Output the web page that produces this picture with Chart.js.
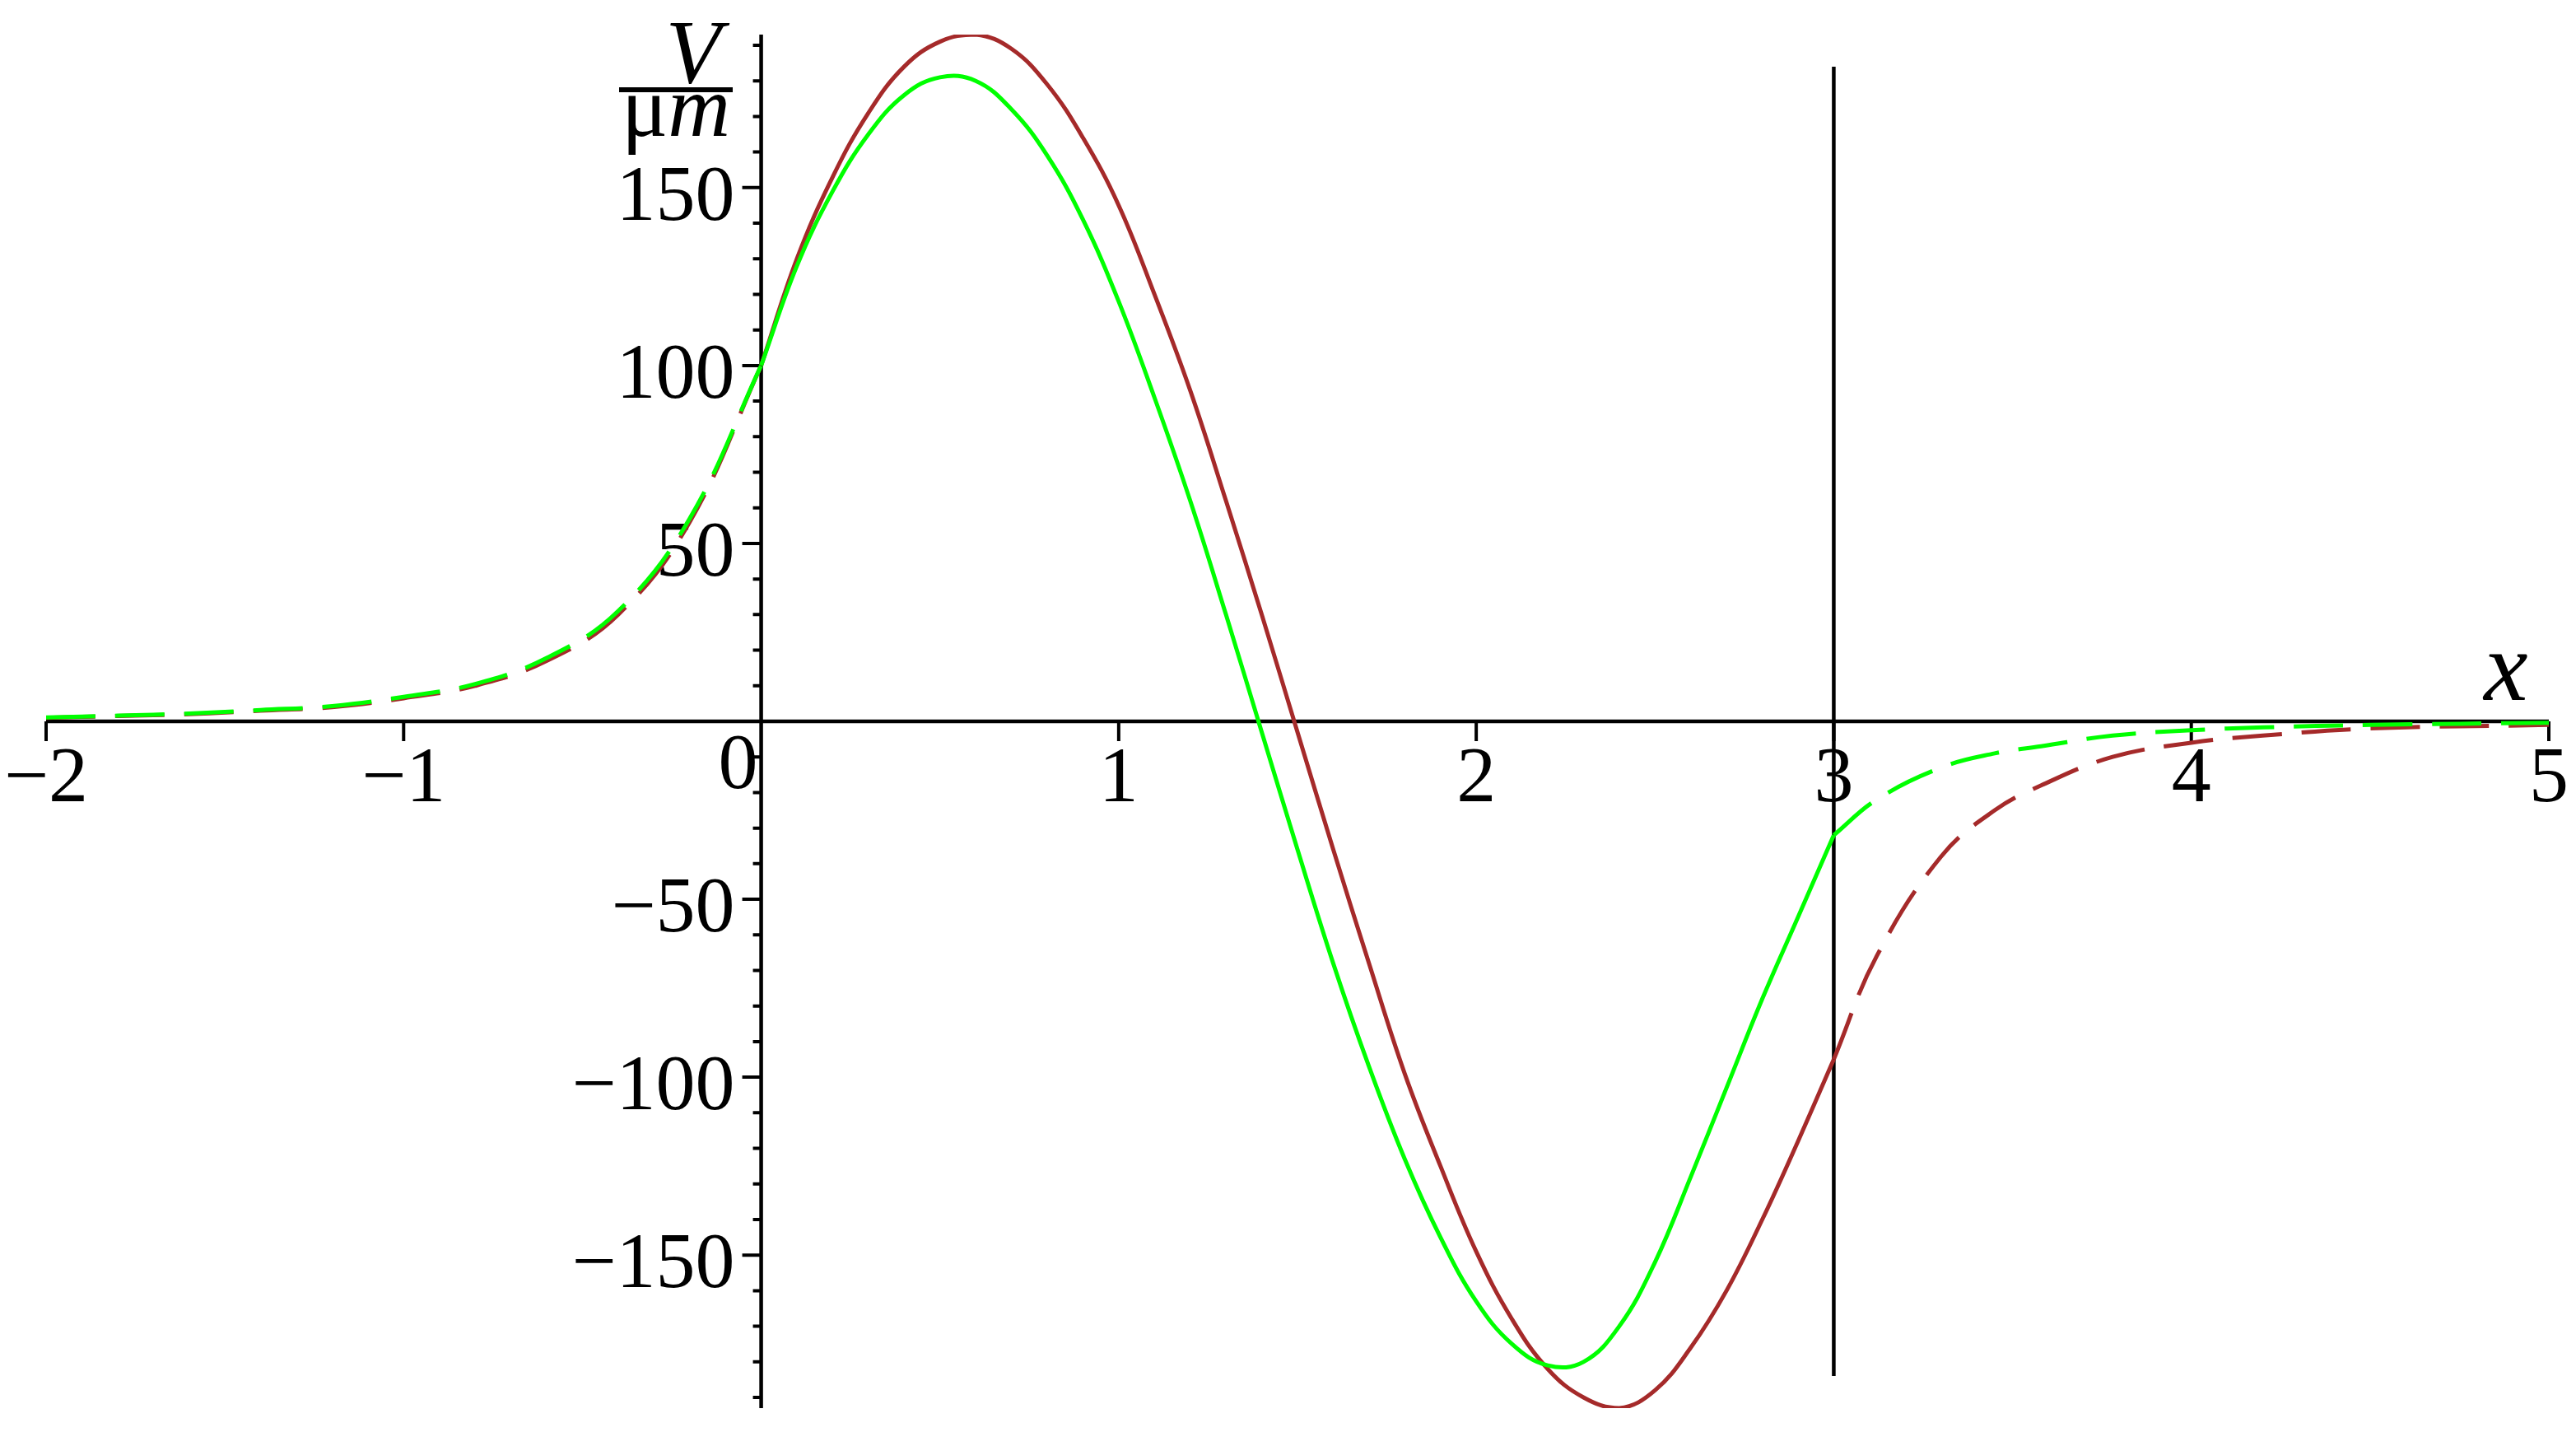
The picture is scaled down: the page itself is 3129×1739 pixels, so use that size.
<!DOCTYPE html>
<html><head><meta charset="utf-8">
<script src="https://cdn.jsdelivr.net/npm/chart.js@4"></script>
<style>html,body{margin:0;padding:0;background:#fff;overflow:hidden}</style>
</head><body>
<canvas id="c" width="3129" height="1739"></canvas>
<script>
const xLeft = [-2,-1.8,-1.6,-1.4,-1.2,-1,-0.8,-0.6,-0.4,-0.2,0];
const brownLeft = [1,1.5,2,3,4,6.5,10,17,30,56,100];
const greenLeft = [1.1,1.6,2.2,3.2,4.3,6.9,10.5,17.8,31,57,100];
const xMid = [0,0.1,0.2,0.3,0.4,0.5,0.6,0.7,0.8,0.9,1.0,1.1,1.2,1.3,1.4,1.5,1.6,1.7,1.8,1.9,2.0,2.1,2.2,2.3,2.4,2.5,2.6,2.7,2.8,2.9,3.0];
const brownMid = [100,130,153,171,184,191,193,189,179,164,145,120,93,62,30,-3,-36,-68,-99,-125,-149,-168,-182,-190,-193,-188,-176,-160,-140,-118,-95];
const greenMid = [100,128,149,165,176,181,180,172,159,141,118,91,62,30,-3,-36,-68,-97,-123,-145,-163,-175,-181,-180,-170,-152,-128,-103,-78,-55,-32];
const xRight = [3.0,3.12,3.3,3.45,3.58,3.78,4,4.2,4.5,5];
const brownRight = [-95,-66,-38,-25,-18,-10,-6,-4,-2,-1];
const greenRight = [-32,-22,-13,-9,-7,-4,-2.5,-1.7,-1,-0.4];
const xTicks = [-2,-1,1,2,3,4,5];
const yTicks = [-150,-100,-50,50,100,150];
const boundaryX = 3.0;

const GREEN = '#00ff00', BROWN = '#a52a2a';
const pts = (xs, ys) => xs.map((x,i)=>({x, y: ys[i]}));
function ds(xs, ys, color, dashed){
  return {data: pts(xs,ys), borderColor: color, borderWidth: 5, borderDash: dashed ? [60,24] : [],
    showLine: true, pointRadius: 0, tension: 0.4, fill: false};
}
const FONT = '"Liberation Serif", "DejaVu Serif", serif';
const axesPlugin = {
  id: 'axes',
  beforeDatasetsDraw(chart){
    const {ctx, scales:{x, y}} = chart;
    const x0 = x.getPixelForValue(0), y0 = y.getPixelForValue(0);
    ctx.save();
    ctx.strokeStyle = '#000'; ctx.lineWidth = 4.5;
    ctx.beginPath();
    ctx.moveTo(x.getPixelForValue(-2), y0); ctx.lineTo(x.getPixelForValue(5), y0);
    ctx.moveTo(x0, y.getPixelForValue(193)); ctx.lineTo(x0, y.getPixelForValue(-193));
    const xb = x.getPixelForValue(boundaryX);
    ctx.moveTo(xb, y.getPixelForValue(184)); ctx.lineTo(xb, y.getPixelForValue(-184));
    ctx.stroke();
    ctx.lineWidth = 4;
    ctx.beginPath();
    xTicks.forEach(v=>{const px=x.getPixelForValue(v); ctx.moveTo(px,y0); ctx.lineTo(px,y0+24);});
    for(let v=-190; v<=190; v+=10){
      if(v===0) continue;
      const py=y.getPixelForValue(v); const len = (v%50===0)?23:10;
      ctx.moveTo(x0,py); ctx.lineTo(x0-len,py);
    }
    ctx.stroke();
    ctx.fillStyle='#000';
    ctx.font = '96px ' + FONT;
    ctx.textBaseline='middle';
    ctx.textAlign='center';
    xTicks.forEach(v=>{ctx.fillText((v<0?'\u2212':'')+Math.abs(v), x.getPixelForValue(v), y0+72);});
    ctx.fillText('0', x0-28, y0+56);
    ctx.textAlign='right';
    yTicks.forEach(v=>{ctx.fillText((v<0?'\u2212':'')+Math.abs(v), x0-32, y.getPixelForValue(v)+14);});
    ctx.textAlign='center'; ctx.textBaseline='alphabetic';
    ctx.font = 'italic 110px ' + FONT;
    ctx.fillText('V', 842, 100);
    ctx.fillRect(752, 106, 138, 6);
    ctx.font = '105px ' + FONT;
    const muW = ctx.measureText('\u03bc').width;
    ctx.font = 'italic 105px ' + FONT;
    const mW = ctx.measureText('m').width;
    const start = 821 - (muW+mW)/2;
    ctx.textAlign='left';
    ctx.font = '105px ' + FONT; ctx.fillText('\u03bc', start, 165);
    ctx.font = 'italic 105px ' + FONT; ctx.fillText('m', start+muW, 165);
    ctx.textAlign='center';
    ctx.font = 'italic 120px ' + FONT;
    ctx.fillText('x', 3044, 850);
    ctx.restore();
  }
};
new Chart(document.getElementById('c'), {
  type: 'scatter',
  data: {datasets: [
    ds(xLeft, greenLeft, GREEN, true),
    ds(xMid, greenMid, GREEN, false),
    ds(xRight, greenRight, GREEN, true),
    ds(xLeft, brownLeft, BROWN, true),
    ds(xMid, brownMid, BROWN, false),
    ds(xRight, brownRight, BROWN, true)
  ]},
  options: {
    responsive: false, animation: false, devicePixelRatio: 1,
    layout: {padding: {left: 56, right: 33, top: 42, bottom: 29}},
    plugins: {legend: {display: false}, tooltip: {enabled: false}},
    scales: {
      x: {type: 'linear', min: -2, max: 5, display: false},
      y: {type: 'linear', min: -193, max: 193, display: false}
    }
  },
  plugins: [axesPlugin]
});
</script>
</body></html>
